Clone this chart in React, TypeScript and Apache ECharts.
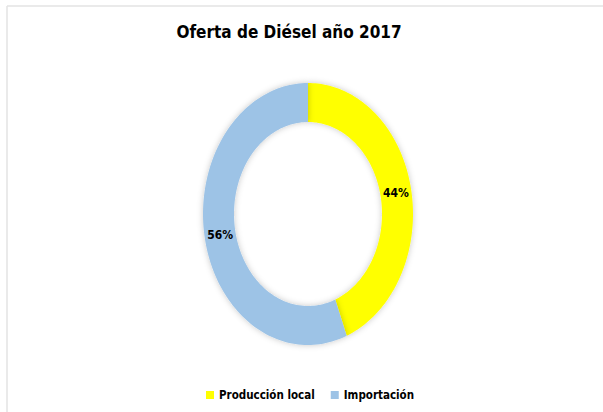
import React, { useEffect, useRef } from "react";
import * as echarts from "echarts";

const categories = ["Producción local", "Importación"];
const values = [44, 56];
const colors = ["#FFFF00", "#9DC3E6"];
const titleText = "Oferta de Diésel año 2017";

const FONT = "'Liberation Sans Narrow', 'Arial Narrow', 'DejaVu Sans Condensed', 'Liberation Sans', sans-serif";

export default function App() {
  const ref = useRef<HTMLDivElement>(null);
  useEffect(() => {
    if (!ref.current) return;
    const chart = echarts.init(ref.current, null, { renderer: "svg" });
    const total = values.reduce((a, b) => a + b, 0);
    const cx = 308, cy = 214, rxO = 105, ryO = 131, rxI = 74, ryI = 92;
    const pt = (t: number, rx: number, ry: number) => [cx + rx * Math.sin(t), cy - ry * Math.cos(t)];

    const series = categories.map((name, idx) => {
      const before = values.slice(0, idx).reduce((a, b) => a + b, 0);
      return {
        type: "custom",
        name,
        coordinateSystem: "none",
        itemStyle: { color: colors[idx] },
        data: [[values[idx]]],
        renderItem: (params: any, api: any) => {
          const v = api.value(0);
          const t0 = (before / total) * Math.PI * 2;
          const t1 = ((before + v) / total) * Math.PI * 2;
          const n = 120;
          const pts: number[][] = [];
          for (let i = 0; i <= n; i++) pts.push(pt(t0 + ((t1 - t0) * i) / n, rxO, ryO));
          for (let i = n; i >= 0; i--) pts.push(pt(t0 + ((t1 - t0) * i) / n, rxI, ryI));
          const tm = (t0 + t1) / 2;
          const lp = pt(tm, (rxO + rxI) / 2, (ryO + ryI) / 2);
          return {
            type: "group",
            children: [
              {
                type: "polygon",
                shape: { points: pts },
                style: {
                  fill: colors[idx],
                  shadowBlur: 6,
                  shadowColor: "rgba(0,0,0,0.22)",
                },
              },
              {
                type: "text",
                x: lp[0],
                y: lp[1],
                style: {
                  text: Math.round((v / total) * 100) + "%",
                  fill: "#000",
                  font: "bold 12px " + FONT,
                  align: "center",
                  verticalAlign: "middle",
                },
              },
            ],
          };
        },
      };
    });

    chart.setOption({
      animation: false,
      backgroundColor: "#fff",
      title: {
        text: titleText,
        left: 284,
        top: 18,
        textAlign: "center",
        textStyle: { fontFamily: FONT, fontWeight: "bold", fontSize: 17, color: "#000" },
      },
      legend: {
        data: categories,
        left: 201,
        top: 384,
        icon: "rect",
        itemWidth: 8,
        itemHeight: 8,
        itemGap: 16,
        textStyle: { fontFamily: FONT, fontWeight: "bold", fontSize: 11.5, color: "#000" },
      },
      graphic: [
        { type: "line", shape: { x1: 7, y1: 6, x2: 603, y2: 6 }, style: { stroke: "#e3e3e3", lineWidth: 1.5 } },
        { type: "line", shape: { x1: 7, y1: 6, x2: 7, y2: 412 }, style: { stroke: "#e3e3e3", lineWidth: 1.5 } },
      ],
      series,
    });
    return () => chart.dispose();
  }, []);
  return (
    <div
      ref={ref}
      style={{ position: "absolute", left: 0, top: 0, width: 603, height: 412 }}
    />
  );
}
